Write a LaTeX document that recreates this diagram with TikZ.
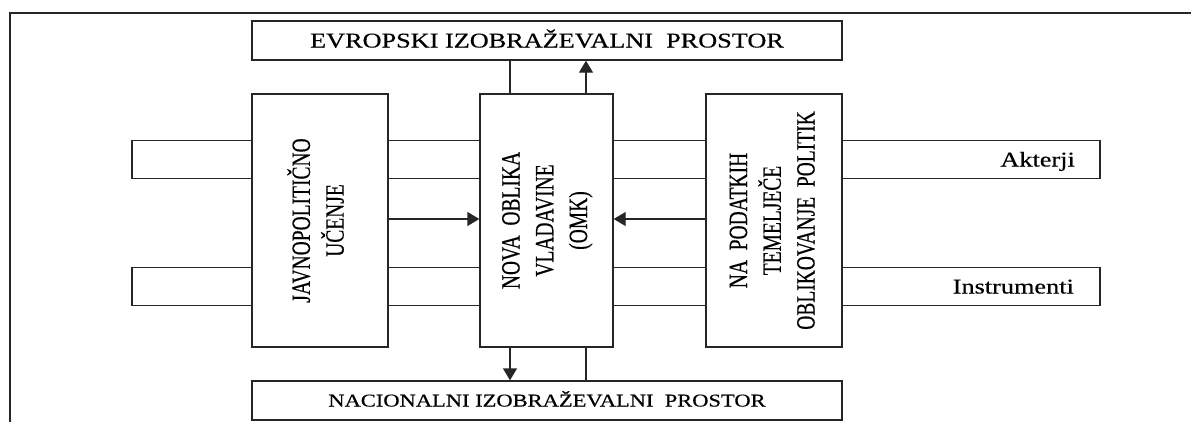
\documentclass[tikz,border=0pt]{standalone}
\usepackage{graphicx}
\usepackage{fontspec}
\setmainfont[FakeBold=0.4]{Liberation Serif}
\usetikzlibrary{arrows.meta}
\begin{document}
\begin{tikzpicture}[x=1pt,y=-1pt,
  ln/.style={line width=1.4pt, draw=black!85},
  box/.style={ln, fill=white, rectangle, inner sep=0pt},
  band/.style={ln, rectangle, inner sep=0pt, minimum width=968pt, minimum height=38pt},
  htext/.style={font=\fontsize{21}{25}\selectfont, text height=14pt, text depth=0pt},
  vtext/.style={rotate=90, font=\fontsize{19.5}{25}\selectfont, inner sep=0pt},
  arr/.style={ln, -{Triangle[length=12pt,width=14pt]}},
]
\useasboundingbox (0,0) rectangle (1191,421);
\draw[ln] (10,430) -- (10,13) -- (1200,13);

% bands
\node[band] (akt) at (616,159.5) {};
\node[band] (ins) at (616,286.5) {};
\node[htext, anchor=east, inner sep=0pt] (aktl) at (1075,159.5) {\scalebox{1.25}[1]{Akterji}};
\node[htext, anchor=east, inner sep=0pt] (insl) at (1074,286.5) {\scalebox{1.25}[1]{Instrumenti}};

% top and bottom boxes
\node[box, htext, minimum width=590pt, minimum height=39pt] (evr) at (547,40.5)
  {\scalebox{1.25}[1]{EVROPSKI IZOBRAŽEVALNI\ \ PROSTOR}};
\node[box, htext, font=\fontsize{18}{22}\selectfont, text height=12pt, minimum width=590pt, minimum height=39pt] (nac) at (547,400.5)
  {\scalebox{1.25}[1]{NACIONALNI IZOBRAŽEVALNI\ \ PROSTOR}};

% vertical boxes
\node[box, minimum width=136pt, minimum height=253pt] (jav) at (320,220.5) {};
\node[vtext] (javt) at (jav.center) {\scalebox{1}[1.35]{\begin{tabular}{@{}c@{}}JAVNOPOLITIČNO\\UČENJE\end{tabular}}};

\node[box, minimum width=133pt, minimum height=253pt] (omk) at (546.5,220.5) {};
\node[vtext] (omkt) at (omk.center) {\scalebox{1}[1.35]{\begin{tabular}{@{}c@{}}NOVA\ \ OBLIKA\\VLADAVINE\\(OMK)\end{tabular}}};

\node[box, minimum width=136pt, minimum height=253pt] (pod) at (774,220.5) {};
\node[vtext] (podt) at (pod.center) {\scalebox{1}[1.35]{\begin{tabular}{@{}c@{}}NA\ \ PODATKIH\\TEMELJEČE\\OBLIKOVANJE\ \ POLITIK\end{tabular}}};

% connectors
\draw[arr] (jav.east |- 0,219) -- (omk.west |- 0,219);
\draw[arr] (pod.west |- 0,219) -- (omk.east |- 0,219);
\draw[ln] (omk.north -| 510,0) -- (evr.south -| 510,0);
\draw[arr] (omk.north -| 586,0) -- (evr.south -| 586,0);
\draw[arr] (omk.south -| 510,0) -- (nac.north -| 510,0);
\draw[ln] (omk.south -| 586,0) -- (nac.north -| 586,0);
\end{tikzpicture}
\end{document}
